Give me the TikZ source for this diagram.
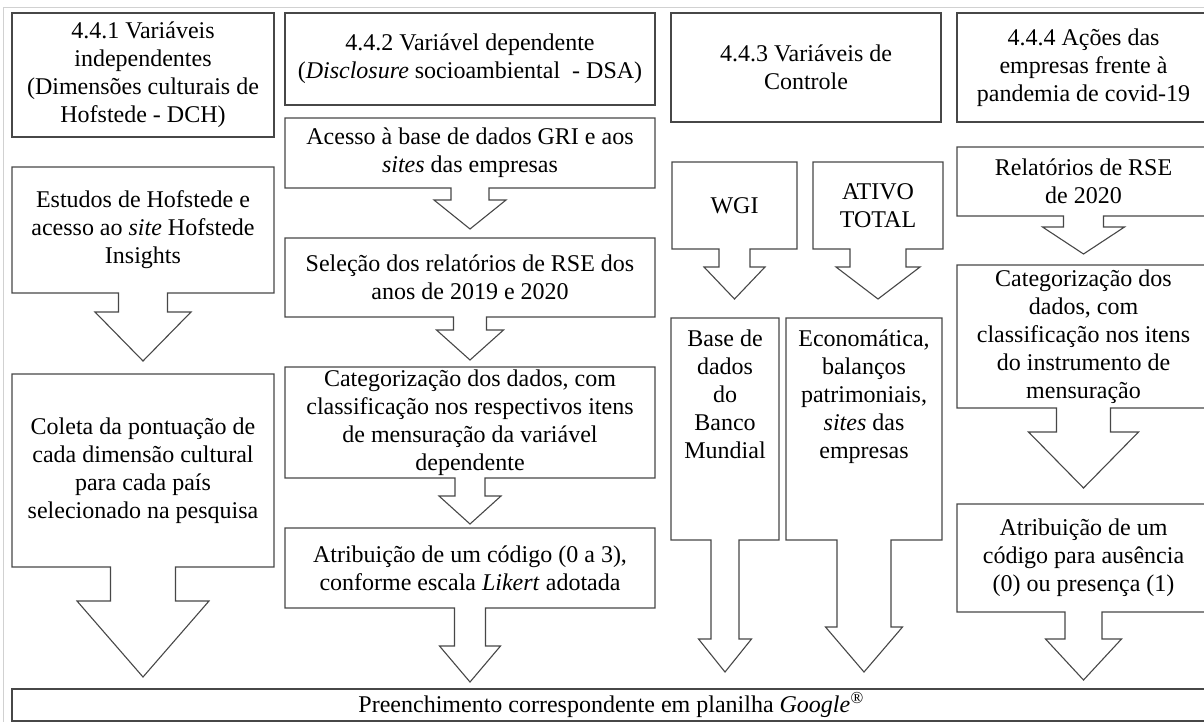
\documentclass[tikz,border=0pt]{standalone}
\usepackage{fontspec}
\setmainfont{Liberation Serif}
\usetikzlibrary{calc}
\tikzset{
  outl/.style={draw=black!72, line width=1.1pt, line join=miter},
  txt/.style={font=\fontsize{24}{28}\selectfont, align=center, inner sep=0pt, outer sep=0pt, text=black},
  gridline/.style={draw=black!18, line width=1.5pt},
}
% plain box with border and centred text
\newcommand\mybox[6]{\node[txt, outl, minimum width={(#4-#2)*1pt}, minimum height={(#5-#3)*1pt}] (#1) at ({(#2+#4)/2},{(#3+#5)/2}) {#6};}
% box whose outline is drawn later together with its arrow
\newcommand\myabox[6]{\node[txt, minimum width={(#4-#2)*1pt}, minimum height={(#5-#3)*1pt}] (#1) at ({(#2+#4)/2},{(#3+#5)/2}) {#6};}
% outline of box #1 with a downward block arrow: stem half width, head half width, shoulder depth, tip depth
\newcommand\myarrow[5]{\draw[outl] (#1.north west) -- (#1.north east) -- (#1.south east)
  -- ($(#1.south)+(#2,0)$) -- ($(#1.south)+(#2,#4)$) -- ($(#1.south)+(#3,#4)$)
  -- ($(#1.south)+(0,#5)$)
  -- ($(#1.south)+(-#3,#4)$) -- ($(#1.south)+(-#2,#4)$) -- ($(#1.south)+(-#2,0)$)
  -- (#1.south west) -- cycle;}
\begin{document}
\begin{tikzpicture}[x=1pt,y=-1pt]
\useasboundingbox (0,0) rectangle (1204,722);
\fill[white] (0,0) rectangle (1204,722);
\clip (0,0) rectangle (1204,722);
\draw[gridline] (3.5,722) -- (3.5,7.5) -- (1204,7.5);

% column 1
\mybox{h1}{12}{13}{274}{137}{4.4.1 Variáveis\\independentes\\(Dimensões culturais de\\Hofstede - DCH)}
\myabox{a2}{12}{167}{274}{293}{Estudos de Hofstede e\\acesso ao \textit{site} Hofstede\\Insights}
\myarrow{a2}{24.5}{48}{19}{68}
\myabox{a3}{12}{374}{274}{567}{Coleta da pontuação de\\cada dimensão cultural\\para cada país\\selecionado na pesquisa}
\myarrow{a3}{32.5}{66}{34}{110}

% column 2
\mybox{h2}{285}{13}{655}{105}{4.4.2 Variável dependente\\(\textit{Disclosure} socioambiental\ \ - DSA)}
\myabox{b1}{285}{118}{655}{188}{Acesso à base de dados GRI e aos\\\textit{sites} das empresas}
\myarrow{b1}{19}{36}{12}{41}
\myabox{b2}{285}{238}{655}{317}{Seleção dos relatórios de RSE dos\\anos de 2019 e 2020}
\myarrow{b2}{16.5}{33.5}{13}{43}
\myabox{b3}{285}{367}{655}{478}{Categorização dos dados, com\\classificação nos respectivos itens\\de mensuração da variável\\dependente}
\myarrow{b3}{15}{31}{18}{46}
\myabox{b4}{285}{528}{655}{608}{Atribuição de um código (0 a 3),\\conforme escala \textit{Likert} adotada}
\myarrow{b4}{15.5}{30.5}{38}{74}

% column 3
\mybox{h3}{671}{13}{941}{122}{4.4.3 Variáveis de\\Controle}
\myabox{c1}{672}{162}{797}{249}{WGI}
\myarrow{c1}{15.5}{30.5}{18}{50}
\myabox{c2}{813}{162}{943}{249}{ATIVO\\TOTAL}
\myarrow{c2}{28}{42}{18}{50}
\myabox{c3}{671}{318}{779}{540}{}
\myarrow{c3}{14}{26.5}{99}{132}
\node[txt, anchor=north] (c3t) at ($(c3.north)+(0,12)$) {Base de\\dados\\do\\Banco\\Mundial};
\myabox{c4}{786}{318}{942}{540}{}
\myarrow{c4}{27}{38.5}{87}{132}
\node[txt, anchor=north] (c4t) at ($(c4.north)+(0,12)$) {Economática,\\balanços\\patrimoniais,\\\textit{sites} das\\empresas};

% column 4
\mybox{h4}{957}{13}{1210}{122}{4.4.4 Ações das\\empresas frente à\\pandemia de covid-19}
\myabox{d1}{957}{147}{1210}{216}{Relatórios de RSE\\de 2020}
\myarrow{d1}{20}{41}{11}{38}
\myabox{d2}{957}{265}{1210}{408}{Categorização dos\\dados, com\\classificação nos itens\\do instrumento de\\mensuração}
\myarrow{d2}{27}{55}{24}{80}
\myabox{d3}{957}{504}{1210}{612}{Atribuição de um\\código para ausência\\(0) ou presença (1)}
\myarrow{d3}{18.5}{38}{27}{68}

% bottom
\mybox{e}{12}{689}{1210}{721}{Preenchimento correspondente em planilha \textit{Google}\textsuperscript{\textit{®}}}
\end{tikzpicture}
\end{document}
